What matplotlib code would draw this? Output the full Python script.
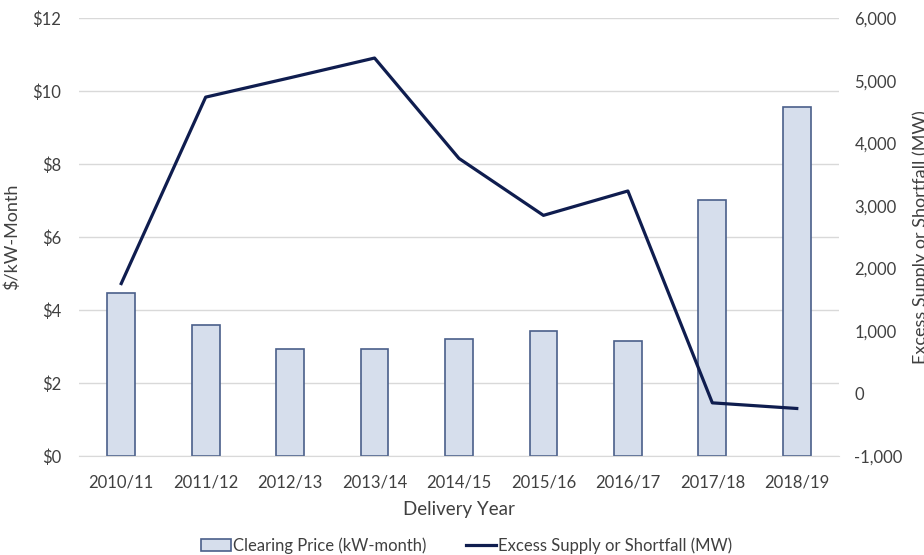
import numpy as np
import matplotlib
matplotlib.use("Agg")
import matplotlib.pyplot as plt
from matplotlib.ticker import FuncFormatter

plt.rcParams['font.family'] = ['Lato', 'DejaVu Sans']

anos = ["2010/11", "2011/12", "2012/13", "2013/14", "2014/15",
        "2015/16", "2016/17", "2017/18", "2018/19"]
preco = [4.48, 3.60, 2.94, 2.94, 3.21, 3.42, 3.15, 7.01, 9.56]
excesso = [1760, 4740, 5050, 5365, 3760, 2850, 3240, -147, -237]

cor_texto = "#404040"
x = np.arange(len(anos))

fig = plt.figure(figsize=(9.24, 5.55), dpi=100)
ax = fig.add_axes([0.0855, 0.178, 0.8225, 0.789])
ax2 = ax.twinx()

barras = ax.bar(x, preco, width=0.33, color="#D6DEEC", edgecolor="#4A5F8A",
                linewidth=1.2, label="Clearing Price (kW-month)", zorder=2)
linha, = ax2.plot(x, excesso, color="#0F1D4F", linewidth=2.3,
                  label="Excess Supply or Shortfall (MW)", zorder=3)

ax.set_xlim(-0.5, len(anos) - 0.5)
ax.set_ylim(0, 12)
ax.set_yticks(range(0, 13, 2))
ax.yaxis.set_major_formatter(FuncFormatter(lambda v, p: f"${v:.0f}"))
ax2.set_ylim(-1000, 6000)
ax2.set_yticks(range(-1000, 6001, 1000))
ax2.yaxis.set_major_formatter(FuncFormatter(lambda v, p: f"{v:,.0f}"))

ax.set_xticks(x)
ax.set_xticklabels(anos)
ax.grid(axis="y", color="#D9D9D9", linewidth=1, zorder=0)
ax.set_axisbelow(True)

for a in (ax, ax2):
    for s in a.spines.values():
        s.set_visible(False)
    a.tick_params(length=0, labelsize=12, labelcolor=cor_texto)
ax.spines["bottom"].set_visible(True)
ax.spines["bottom"].set_color("#D9D9D9")
ax.tick_params(axis="x", pad=13)
ax.tick_params(axis="y", pad=13)
ax2.tick_params(axis="y", pad=11)

ax.set_xlabel("Delivery Year", fontsize=13.5, color=cor_texto, labelpad=8)
ax.set_ylabel("$/kW-Month", fontsize=13, color=cor_texto, labelpad=9)
# cortado na borda direita, como na imagem original
ax2.set_ylabel("Excess Supply or Shortfall (MW)", fontsize=13, color=cor_texto, labelpad=7)

fig.legend([barras, linha], [barras.get_label(), linha.get_label()],
           loc="lower center", bbox_to_anchor=(0.505, -0.025), ncol=2, frameon=False,
           fontsize=12, labelcolor=cor_texto, handlelength=1.8, handletextpad=0.1,
           columnspacing=2.4)

fig.savefig("out.png", dpi=100)
